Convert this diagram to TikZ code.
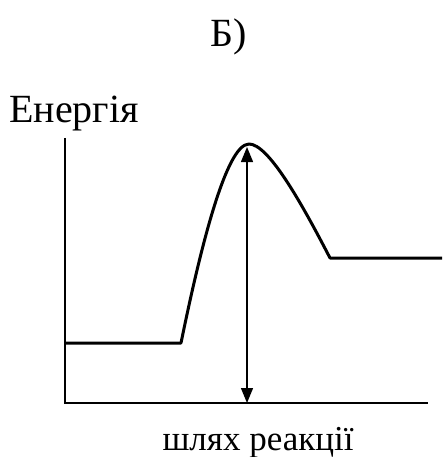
\documentclass[tikz,border=0pt]{standalone}
\usepackage{fontspec}
\setmainfont{Liberation Serif}
\usetikzlibrary{arrows.meta}
\begin{document}
\begin{tikzpicture}[x=1pt,y=-1pt,
  axis/.style={line width=1.3pt},
  curve/.style={line width=3pt,line join=round},
  dimarrow/.style={line width=1.3pt,{Triangle[width=12pt,length=15pt]}-{Triangle[width=12pt,length=15pt]}},
  lbl/.style={inner sep=0pt,font=\fontsize{35}{40}\selectfont},
  biglbl/.style={inner sep=0pt,font=\fontsize{40}{44}\selectfont}]
\useasboundingbox (0,0) rectangle (442,457);
\node[biglbl,anchor=base] (title) at (229,47) {Б)};
\node[biglbl,anchor=base west] (ylabel) at (9,123) {Енергія};
\node[lbl,anchor=base] (xlabel) at (258,450) {шлях реакції};
\coordinate (ytop) at (65,138);
\coordinate (origin) at (65,403);
\coordinate (xend) at (428,403);
\draw[axis] (ytop) -- (origin) -- (xend);
\coordinate (r1) at (65,343);
\coordinate (r2) at (181,343);
\coordinate (ts) at (249,144);
\coordinate (p1) at (330,258);
\coordinate (p2) at (442,258);
\draw[curve] (r1) -- (r2) .. controls (200,250) and (226,144) .. (ts)
  .. controls (268,144) and (300,200) .. (p1) -- (p2);
\coordinate (peak) at (247,147);
\coordinate (base) at (247,403);
\draw[dimarrow] (base) -- (peak);
\end{tikzpicture}
\end{document}
